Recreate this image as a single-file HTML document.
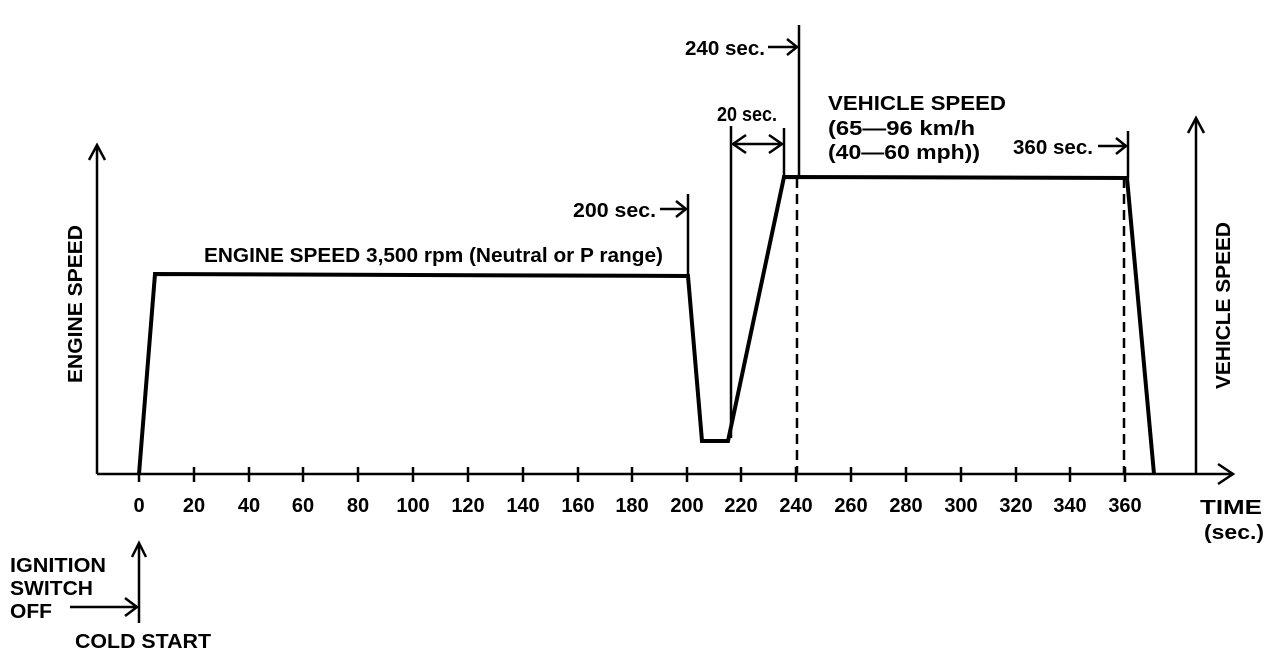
<!DOCTYPE html>
<html><head><style>
html,body{margin:0;padding:0;background:#fff;}
svg{display:block;}
text{font-family:"Liberation Sans",Arial,sans-serif;font-weight:bold;fill:#000;font-size:20px;}
</style></head><body>
<svg width="1280" height="654" viewBox="0 0 1280 654" xmlns="http://www.w3.org/2000/svg">
<g stroke="#000" fill="none" stroke-width="2.5">
<line x1="97" y1="474" x2="1233" y2="474"/>
<polyline points="1218,464 1233,474 1218,484"/>
<line x1="97" y1="474" x2="97" y2="145"/>
<polyline points="89,160 97,145 105,160"/>
<line x1="1196" y1="474" x2="1196" y2="118"/>
<polyline points="1188,133 1196,118 1204,133"/>
</g>
<g stroke="#000" stroke-width="2.5">
<line x1="139" y1="467" x2="139" y2="482"/><line x1="194" y1="467" x2="194" y2="482"/><line x1="249" y1="467" x2="249" y2="482"/><line x1="303" y1="467" x2="303" y2="482"/><line x1="358" y1="467" x2="358" y2="482"/><line x1="413" y1="467" x2="413" y2="482"/><line x1="468" y1="467" x2="468" y2="482"/><line x1="523" y1="467" x2="523" y2="482"/><line x1="578" y1="467" x2="578" y2="482"/><line x1="632" y1="467" x2="632" y2="482"/><line x1="687" y1="467" x2="687" y2="482"/><line x1="741" y1="467" x2="741" y2="482"/><line x1="796" y1="467" x2="796" y2="482"/><line x1="851" y1="467" x2="851" y2="482"/><line x1="906" y1="467" x2="906" y2="482"/><line x1="961" y1="467" x2="961" y2="482"/><line x1="1016" y1="467" x2="1016" y2="482"/><line x1="1070" y1="467" x2="1070" y2="482"/><line x1="1125" y1="467" x2="1125" y2="482"/>
</g>
<polyline points="139,474 155,274 688,276 702,441 728,441 784,177 1127,178 1154,474" stroke="#000" stroke-width="4" fill="none"/>
<g stroke="#000" stroke-width="2.5" fill="none">
<line x1="688" y1="194" x2="688" y2="276"/>
<line x1="660" y1="209" x2="686" y2="209"/><polyline points="676,201 686,209 676,217"/>
<line x1="731" y1="126" x2="731" y2="438"/>
<line x1="784" y1="128" x2="784" y2="177"/>
<line x1="733" y1="144" x2="782" y2="144"/>
<polyline points="746,135 733,144 746,153"/><polyline points="769,135 782,144 769,153"/>
<line x1="799" y1="25" x2="799" y2="177"/>
<line x1="768" y1="47" x2="797" y2="47"/><polyline points="787,39 797,47 787,55"/>
<line x1="797" y1="178" x2="797" y2="474" stroke-dasharray="10,6"/>
<line x1="1128" y1="131" x2="1128" y2="178"/>
<line x1="1098" y1="146" x2="1126" y2="146"/><polyline points="1116,138 1126,146 1116,154"/>
<line x1="1124" y1="178" x2="1124" y2="474" stroke-dasharray="10,6"/>
<line x1="139" y1="543" x2="139" y2="623"/><polyline points="132,557 139,543 146,557"/>
<line x1="70" y1="607" x2="137" y2="607"/><polyline points="125,598 137,607 125,616"/>
</g>
<g text-anchor="middle" font-size="19">
<text x="139" y="512">0</text><text x="194" y="512">20</text><text x="249" y="512">40</text><text x="303" y="512">60</text><text x="358" y="512">80</text><text x="413" y="512">100</text><text x="468" y="512">120</text><text x="523" y="512">140</text><text x="578" y="512">160</text><text x="632" y="512">180</text><text x="687" y="512">200</text><text x="741" y="512">220</text><text x="796" y="512">240</text><text x="851" y="512">260</text><text x="906" y="512">280</text><text x="961" y="512">300</text><text x="1016" y="512">320</text><text x="1070" y="512">340</text><text x="1125" y="512">360</text>
</g>
<text x="204" y="262" textLength="459" lengthAdjust="spacingAndGlyphs">ENGINE SPEED 3,500 rpm (Neutral or P range)</text>
<text x="573" y="217" textLength="83" lengthAdjust="spacingAndGlyphs">200 sec.</text>
<text x="717" y="121" textLength="60" lengthAdjust="spacingAndGlyphs">20 sec.</text>
<text x="685" y="55" textLength="80" lengthAdjust="spacingAndGlyphs">240 sec.</text>
<text x="828" y="110" textLength="178" lengthAdjust="spacingAndGlyphs">VEHICLE SPEED</text>
<text x="828" y="135" textLength="147" lengthAdjust="spacingAndGlyphs">(65—96 km/h</text>
<text x="828" y="159" textLength="152" lengthAdjust="spacingAndGlyphs">(40—60 mph))</text>
<text x="1013" y="154" textLength="80" lengthAdjust="spacingAndGlyphs">360 sec.</text>
<text x="1200" y="514" textLength="62" lengthAdjust="spacingAndGlyphs">TIME</text>
<text x="1204" y="539" textLength="60" lengthAdjust="spacingAndGlyphs">(sec.)</text>
<text x="10" y="572" textLength="96" lengthAdjust="spacingAndGlyphs">IGNITION</text>
<text x="10" y="595" textLength="83" lengthAdjust="spacingAndGlyphs">SWITCH</text>
<text x="10" y="618" textLength="42" lengthAdjust="spacingAndGlyphs">OFF</text>
<text x="75" y="648" textLength="136" lengthAdjust="spacingAndGlyphs">COLD START</text>
<text transform="translate(82,383) rotate(-90)" textLength="158" lengthAdjust="spacingAndGlyphs">ENGINE SPEED</text>
<text transform="translate(1230,389) rotate(-90)" textLength="167" lengthAdjust="spacingAndGlyphs">VEHICLE SPEED</text>
</svg>
</body></html>
